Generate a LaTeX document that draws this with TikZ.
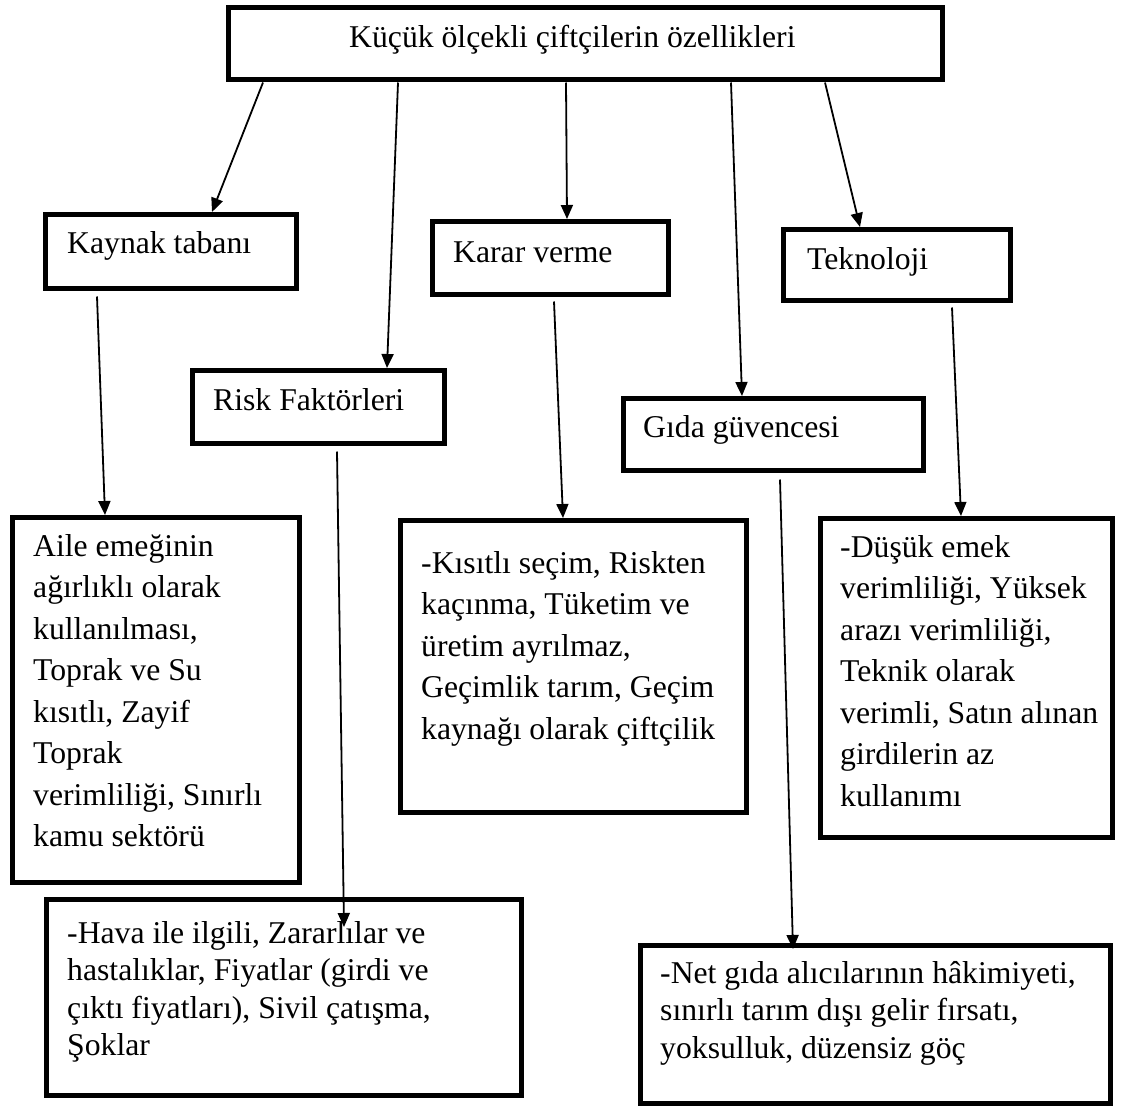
\documentclass[tikz,border=0pt]{standalone}
\usepackage{fontspec}
\setmainfont{Liberation Serif}
\usetikzlibrary{arrows.meta,calc}
\newcommand\mlines[1]{\begin{tabular}[t]{@{}l@{}}#1\end{tabular}}
\tikzset{
  boxnode/.style={draw, line width=4.5pt, rectangle, inner sep=0pt, anchor=north west},
  txt/.style={inner sep=0pt, anchor=base west, font=\fontsize{31.7}{41.5}\selectfont},
  txtb/.style={inner sep=0pt, anchor=base west, font=\fontsize{31.7}{37.5}\selectfont},
  conn/.style={line width=1.8pt, -{Triangle[length=14pt,width=12pt]}}
}
\begin{document}
\begin{tikzpicture}[x=1pt,y=-1pt]
\useasboundingbox (0,0) rectangle (1139,1106);
% boxes
\node[boxnode, minimum width=714pt, minimum height=72pt] (top) at (226,5) {};
\node[boxnode, minimum width=251pt, minimum height=74pt] (kb) at (43,212) {};
\node[boxnode, minimum width=252pt, minimum height=73pt] (rf) at (190,368) {};
\node[boxnode, minimum width=236pt, minimum height=73pt] (kv) at (430,219) {};
\node[boxnode, minimum width=227pt, minimum height=71pt] (tk) at (781,227) {};
\node[boxnode, minimum width=300pt, minimum height=72pt] (gg) at (621,396) {};
\node[boxnode, minimum width=287pt, minimum height=365pt] (aile) at (10,515) {};
\node[boxnode, minimum width=346pt, minimum height=292pt] (kis) at (398,518) {};
\node[boxnode, minimum width=292pt, minimum height=319pt] (dus) at (818,516) {};
\node[boxnode, minimum width=475pt, minimum height=196pt] (hava) at (44,897) {};
\node[boxnode, minimum width=470pt, minimum height=158pt] (net) at (638,943) {};
% texts
\node[txt] (topt) at (349,47) {Küçük ölçekli çiftçilerin özellikleri};
\node[txt] (kbt) at (67,253) {Kaynak tabanı};
\node[txt] (rft) at (213,410) {Risk Faktörleri};
\node[txt] (kvt) at (453,262) {Karar verme};
\node[txt] (tkt) at (807,269) {Teknoloji};
\node[txt] (ggt) at (643,437) {Gıda güvencesi};
\node[txt] (ailet) at (33,556) {\mlines{Aile emeğinin\\ ağırlıklı olarak\\ kullanılması,\\ Toprak ve Su\\ kısıtlı, Zayif\\ Toprak\\ verimliliği, Sınırlı\\ kamu sektörü}};
\node[txt] (kist) at (421,573) {\mlines{-Kısıtlı seçim, Riskten\\ kaçınma, Tüketim ve\\ üretim ayrılmaz,\\ Geçimlik tarım, Geçim\\ kaynağı olarak çiftçilik}};
\node[txt] (dust) at (840,557) {\mlines{-Düşük emek\\ verimliliği, Yüksek\\ arazı verimliliği,\\ Teknik olarak\\ verimli, Satın alınan\\ girdilerin az\\ kullanımı}};
\node[txtb] (havat) at (67,943) {\mlines{-Hava ile ilgili, Zararlılar ve\\ hastalıklar, Fiyatlar (girdi ve\\ çıktı fiyatları), Sivil çatışma,\\ Şoklar}};
\node[txtb] (nett) at (660,983) {\mlines{-Net gıda alıcılarının hâkimiyeti,\\ sınırlı tarım dışı gelir fırsatı,\\ yoksulluk, düzensiz göç}};
% connectors
\draw[conn] ($(top.south west)+(37,1)$) -- ($(kb.north west)+(169,0)$);
\draw[conn] ($(top.south west)+(172,1)$) -- ($(rf.north west)+(197,0)$);
\draw[conn] ($(top.south west)+(340,1)$) -- ($(kv.north west)+(137,0)$);
\draw[conn] ($(top.south west)+(505,1)$) -- ($(gg.north west)+(121,0)$);
\draw[conn] ($(top.south west)+(599,1)$) -- ($(tk.north west)+(79,0)$);
\draw[conn] ($(kb.south west)+(54,6)$) -- ($(aile.north west)+(95,0)$);
\draw[conn] ($(rf.south west)+(147,6)$) -- ($(hava.north west)+(300,30)$);
\draw[conn] ($(kv.south west)+(124,5)$) -- ($(kis.north west)+(165,0)$);
\draw[conn] ($(tk.south west)+(171,5)$) -- ($(dus.north west)+(143,0)$);
\draw[conn] ($(gg.south west)+(159,7)$) -- ($(net.north west)+(155,6)$);
\end{tikzpicture}
\end{document}
